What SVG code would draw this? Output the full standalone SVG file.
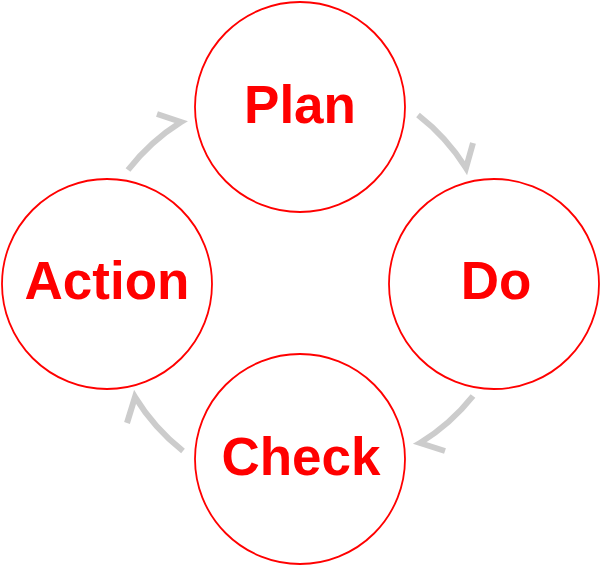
<svg xmlns="http://www.w3.org/2000/svg" width="601" height="565" viewBox="0 0 601 565">
<style>
.node circle{fill:#fff;stroke:#f00;stroke-width:1.8}
.node text{font-family:"Liberation Sans",Arial,sans-serif;font-weight:bold;font-size:53px;fill:#f00;text-anchor:middle}
.conn path{fill:none;stroke:#ccc;stroke-width:6;stroke-linejoin:miter;stroke-linecap:butt}
</style>
<rect width="601" height="565" fill="#fff"/>
<g class="conn" id="connectors">
<path d="M128,170 A205,205 0 0 1 181,122 L157,114"/>
<path d="M418,115 A205,205 0 0 1 466,168 L473,143"/>
<path d="M473,396 A205,205 0 0 1 420,443 L445,451"/>
<path d="M183,451 A205,205 0 0 1 135,397 L127,423"/>
</g>
<g class="node" id="plan"><circle cx="300" cy="107" r="105"/><text x="300" y="123">Plan</text></g>
<g class="node" id="do"><circle cx="494" cy="284" r="105"/><text x="496" y="299">Do</text></g>
<g class="node" id="check"><circle cx="300" cy="459" r="105"/><text x="301" y="475">Check</text></g>
<g class="node" id="action"><circle cx="107" cy="284" r="105"/><text x="107" y="299">Action</text></g>
</svg>
